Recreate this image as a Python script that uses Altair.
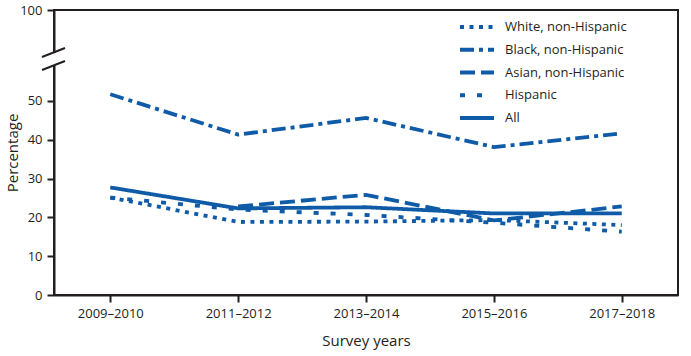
import altair as alt
import pandas as pd

# ---- data ----
years = ["2009–2010", "2011–2012", "2013–2014", "2015–2016", "2017–2018"]
groups = ["White, non-Hispanic", "Black, non-Hispanic", "Asian, non-Hispanic", "Hispanic", "All"]
white = [25.1, 18.8, 18.9, 19.3, 18.0]
black = [51.7, 41.3, 45.6, 38.1, 41.6]
asian = [None, 22.8, 25.8, 19.2, 22.8]
hispanic = [25.1, 22.0, 20.6, 18.6, 16.3]
all_groups = [27.7, 22.3, 22.6, 21.0, 21.0]
y_ticks = [0, 10, 20, 30, 40, 50, 100]

# ---- styles ----
BLUE = "#0f5ba7"
INK = "#231f20"
FONT = "Open Sans"
dashes = [[4, 5.5], [14, 5, 4, 5], [15, 6], [5, 12], [1, 0]]

series = {groups[0]: white, groups[1]: black, groups[2]: asian,
          groups[3]: hispanic, groups[4]: all_groups}
rows = []
for g in groups:
    for yr, v in zip(years, series[g]):
        if v is not None:
            rows.append({"group": g, "year": yr, "value": v})
df = pd.DataFrame(rows)

dash_scale = alt.Scale(domain=groups, range=dashes)

lines = alt.Chart(df).mark_line(color=BLUE, strokeWidth=3.8, strokeCap="butt").encode(
    x=alt.X("year:O", sort=years, scale=alt.Scale(type="point", padding=0.44),
            axis=alt.Axis(title="Survey years", labelAngle=0, tickSize=7, tickWidth=2,
                          domainWidth=2, labelPadding=5, titlePadding=13)),
    y=alt.Y("value:Q",
            scale=alt.Scale(domain=[0, 60, 100], range=[285, 52, 0], nice=False, zero=False),
            axis=alt.Axis(values=y_ticks, title="Percentage", tickSize=7, tickWidth=2,
                          domainWidth=2, labelPadding=5, zindex=0,
                          titleX=-42, titleY=142.5, titleAngle=270,
                          titleAlign="center", titleBaseline="middle")),
    strokeDash=alt.StrokeDash("group:N", scale=dash_scale, legend=None),
    detail="group:N",
)

leg_df = pd.DataFrame({"group": groups})
leg_y = alt.Y("group:N", sort=groups,
              scale=alt.Scale(type="point", range=[17, 108], padding=0), axis=None)
leg_rules = alt.Chart(leg_df).mark_rule(color=BLUE, strokeWidth=3.8, strokeCap="butt").encode(
    x=alt.value(406), x2=alt.value(440), y=leg_y,
    strokeDash=alt.StrokeDash("group:N", scale=dash_scale, legend=None),
)
leg_text = alt.Chart(leg_df).mark_text(align="left", baseline="middle", fontSize=13,
                                       font=FONT, color=INK).encode(
    x=alt.value(451), y=leg_y, text="group:N",
)

dummy = pd.DataFrame({"k": [0]})
gap = alt.Chart(dummy).mark_rule(color="white", strokeWidth=6).encode(
    x=alt.value(0), y=alt.value(43), y2=alt.value(55))
slash1 = alt.Chart(dummy).mark_rule(color=INK, strokeWidth=2).encode(
    x=alt.value(-12), x2=alt.value(11), y=alt.value(47), y2=alt.value(38))
slash2 = alt.Chart(dummy).mark_rule(color=INK, strokeWidth=2).encode(
    x=alt.value(-12), x2=alt.value(11), y=alt.value(60), y2=alt.value(51))

chart = alt.layer(lines, leg_rules, leg_text, gap, slash1, slash2).resolve_scale(
    y="independent"
).properties(
    width=624, height=285,
    autosize=alt.AutoSizeParams(type="none"),
    padding={"left": 54, "top": 10, "right": 13, "bottom": 61},
    background="white",
).configure_view(
    stroke=INK, strokeWidth=2
).configure_axis(
    domainColor=INK, tickColor=INK, labelColor=INK, titleColor=INK,
    labelFont=FONT, titleFont=FONT, labelFontSize=13, titleFontSize=15,
    titleFontWeight="normal", grid=False,
)

chart.save("out.html", embed_options={"renderer": "svg", "actions": False})
